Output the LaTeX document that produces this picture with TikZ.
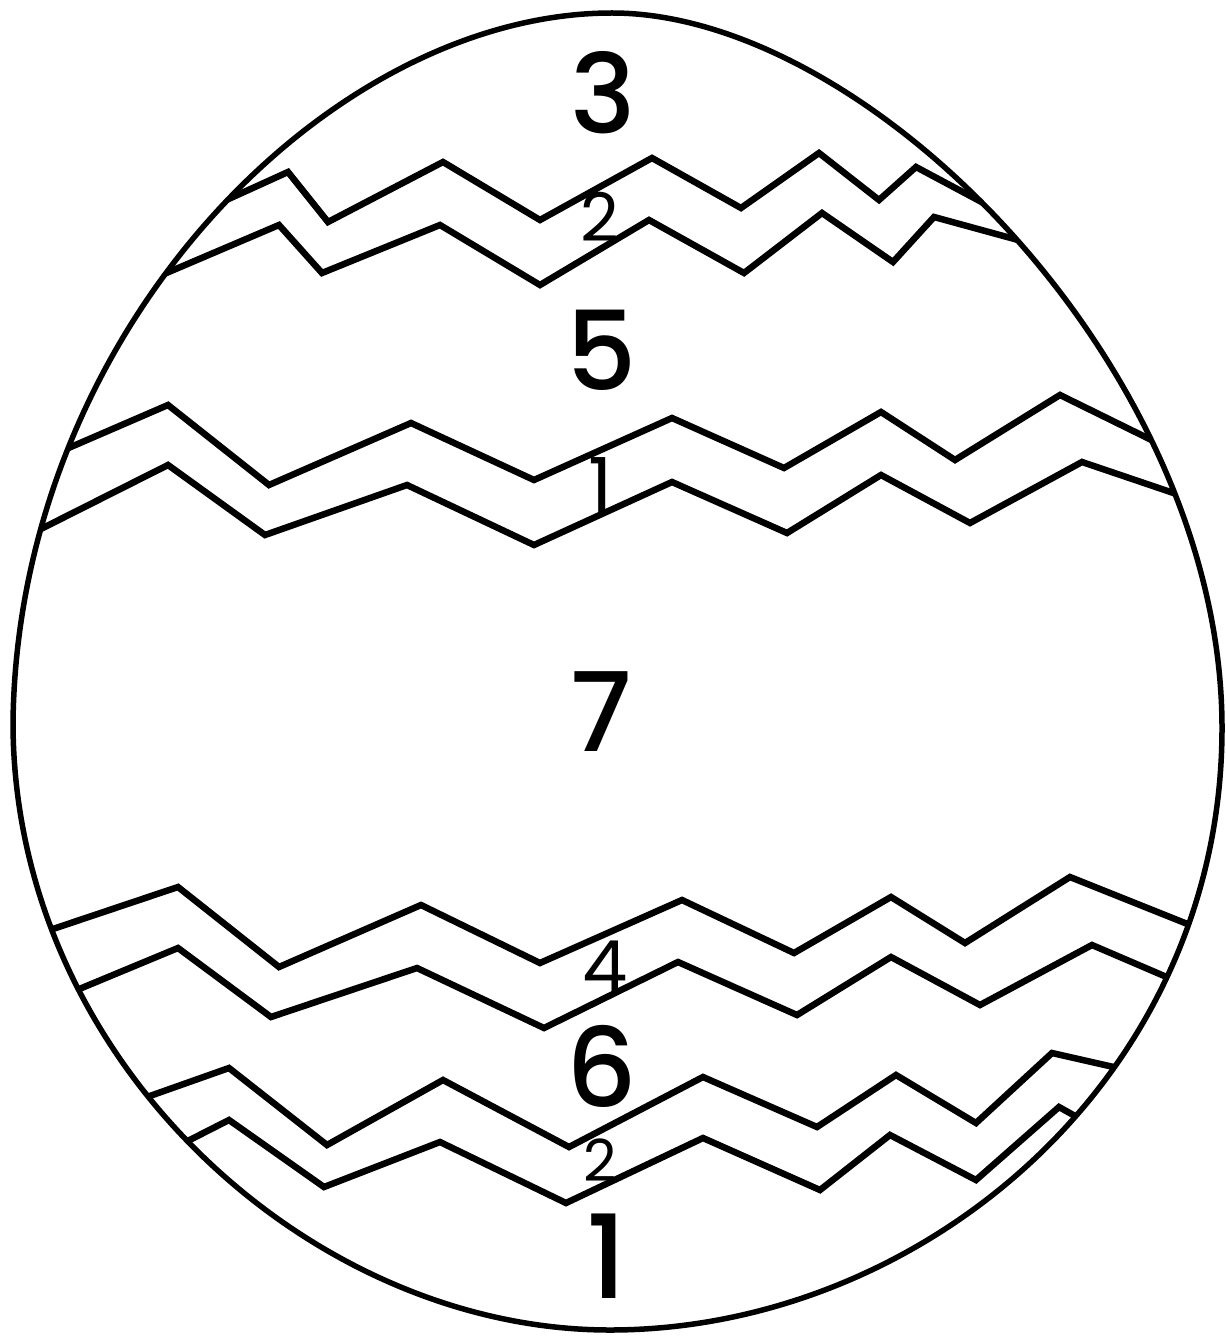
\documentclass[tikz,border=0pt]{standalone}
\usepackage{fontspec}
\setmainfont{Poppins}
\newfontfamily\digitfont{Poppins Medium}
\usepackage{tikz}

\newcommand{\eggpath}{(13,722) .. controls (18,330) and (330,13) .. (612,13)
  .. controls (870,13) and (1222,370) .. (1222,728)
  .. controls (1222,1080) and (920,1330) .. (610,1330)
  .. controls (310,1330) and (13,1060) .. (13,722) -- cycle}

\begin{document}
\begin{tikzpicture}[
        x=1pt, y=-1pt,
        shell/.style={line width=5.5pt},
        zig/.style={line width=6.5pt, line join=miter},
        big/.style={inner sep=0pt, font=\digitfont\fontsize{110}{110}\selectfont},
        small/.style={inner sep=0pt, font=\fontsize{67}{67}\selectfont}
    ]
        \useasboundingbox (0,0) rectangle (1225,1340);

        % bands, cut at the shell
        \begin{scope}
            \clip \eggpath;
            \draw[zig] (222,202) -- (288,172) -- (328,222) -- (443,162) -- (540,220) -- (652,158) -- (741,208) -- (819,153) -- (879,200) -- (916,167) -- (1004,214);
            \draw[zig] (150,280) -- (279,225) -- (322,273) -- (440,225) -- (540,285) -- (649,220) -- (744,273) -- (822,213) -- (893,262) -- (934,217) -- (1040,246);

            \draw[zig] (50,456) -- (168,405) -- (269,485) -- (411,423) -- (534,480) -- (672,418) -- (784,468) -- (881,412) -- (955,460) -- (1060,395) -- (1180,454);
            \draw[zig] (25,537) -- (168,465) -- (265,535) -- (407,485) -- (534,545) -- (672,482) -- (787,533) -- (881,475) -- (970,523) -- (1082,462) -- (1200,502);

            \draw[zig] (35,935) -- (178,887) -- (279,967) -- (421,905) -- (540,963) -- (682,900) -- (794,953) -- (891,897) -- (965,943) -- (1070,877) -- (1210,933);
            \draw[zig] (60,997) -- (178,948) -- (271,1017) -- (417,968) -- (544,1028) -- (678,962) -- (797,1015) -- (891,957) -- (980,1005) -- (1092,945) -- (1190,987);

            \draw[zig] (130,1103) -- (229,1068) -- (327,1145) -- (443,1080) -- (569,1147) -- (703,1077) -- (817,1127) -- (896,1075) -- (976,1123) -- (1052,1053) -- (1140,1073);
            \draw[zig] (170,1150) -- (229,1120) -- (324,1187) -- (440,1142) -- (566,1203) -- (703,1138) -- (820,1190) -- (890,1135) -- (976,1180) -- (1059,1107) -- (1100,1130);
        \end{scope}

        \draw[shell] \eggpath;

        \node[big] (three) at (603,93) {3};
        \node[small] (twoup) at (600,217) {2};
        \node[big] (five) at (602,350) {5};
        \node[small, font=\fontsize{76}{76}\selectfont] (oneup) at (601,485) {1};
        \node[big] (seven) at (601,712) {7};
        \node[small, font=\fontsize{72}{72}\selectfont] (four) at (605,967) {4};
        \node[big] (six) at (602,1066) {6};
        \node[small, font=\fontsize{58}{58}\selectfont] (twolow) at (600,1160) {2};
        \node[big, font=\digitfont\fontsize{116}{116}\selectfont] (onelow) at (607,1256) {1};
    \end{tikzpicture}
\end{document}
